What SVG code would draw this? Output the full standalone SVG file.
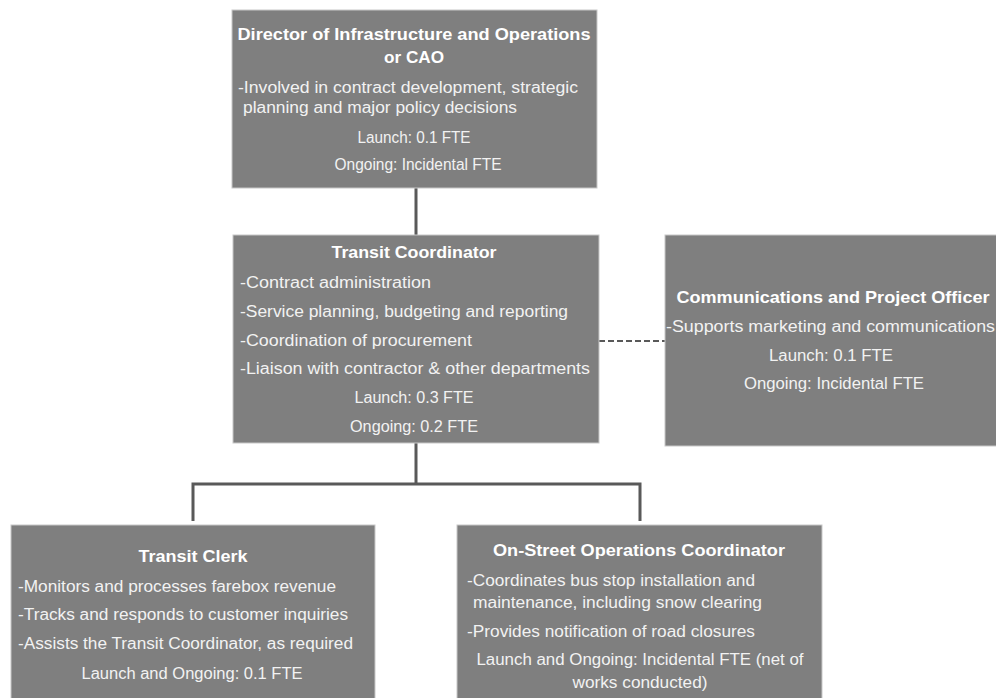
<svg xmlns="http://www.w3.org/2000/svg" width="996" height="698" viewBox="0 0 996 698">
<style>
.box{fill:#7f7f7f;stroke:#c8c8c8;stroke-width:1}
.t{font-family:"Liberation Sans",Arial,sans-serif;font-weight:bold;font-size:17px;fill:#ffffff}
.b{font-family:"Liberation Sans",Arial,sans-serif;font-size:16px;fill:#f2f2f2}
.c{text-anchor:middle}
.ln{stroke:#595959;stroke-width:3;fill:none}
.dl{stroke:#595959;stroke-width:2;fill:none;stroke-dasharray:6 3}
</style>
<g id="connectors">
<line class="ln" x1="416" y1="188" x2="416" y2="235"/>
<polyline class="ln" points="193,521 193,484 640,484 640,521"/>
<line class="ln" x1="416" y1="443" x2="416" y2="484"/>
<line class="dl" x1="599" y1="341" x2="665" y2="341"/>
</g>
<g id="director">
<rect class="box" x="232" y="10" width="365" height="178"/>
<text class="t c" x="414" y="40" textLength="353" lengthAdjust="spacingAndGlyphs">Director of Infrastructure and Operations</text>
<text class="t c" x="414" y="63" textLength="60" lengthAdjust="spacingAndGlyphs">or CAO</text>
<text class="b" x="238" y="93" textLength="340" lengthAdjust="spacingAndGlyphs">-Involved in contract development, strategic</text>
<text class="b" x="243" y="113" textLength="274" lengthAdjust="spacingAndGlyphs">planning and major policy decisions</text>
<text class="b c" x="414" y="143" textLength="113" lengthAdjust="spacingAndGlyphs">Launch: 0.1 FTE</text>
<text class="b c" x="418" y="170" textLength="167" lengthAdjust="spacingAndGlyphs">Ongoing: Incidental FTE</text>
</g>
<g id="transit-coordinator">
<rect class="box" x="233" y="235" width="366" height="208"/>
<text class="t c" x="414" y="258" textLength="165" lengthAdjust="spacingAndGlyphs">Transit Coordinator</text>
<text class="b" x="240" y="288" textLength="191" lengthAdjust="spacingAndGlyphs">-Contract administration</text>
<text class="b" x="240" y="317" textLength="328" lengthAdjust="spacingAndGlyphs">-Service planning, budgeting and reporting</text>
<text class="b" x="240" y="346" textLength="232" lengthAdjust="spacingAndGlyphs">-Coordination of procurement</text>
<text class="b" x="240" y="374" textLength="350" lengthAdjust="spacingAndGlyphs">-Liaison with contractor &amp; other departments</text>
<text class="b c" x="414" y="403" textLength="119" lengthAdjust="spacingAndGlyphs">Launch: 0.3 FTE</text>
<text class="b c" x="414" y="432" textLength="128" lengthAdjust="spacingAndGlyphs">Ongoing: 0.2 FTE</text>
</g>
<g id="communications-officer">
<rect class="box" x="665" y="235" width="340" height="211"/>
<text class="t c" x="833" y="303" textLength="313" lengthAdjust="spacingAndGlyphs">Communications and Project Officer</text>
<text class="b" x="666" y="332" textLength="329" lengthAdjust="spacingAndGlyphs">-Supports marketing and communications</text>
<text class="b c" x="831" y="361" textLength="124" lengthAdjust="spacingAndGlyphs">Launch: 0.1 FTE</text>
<text class="b c" x="834" y="389" textLength="180" lengthAdjust="spacingAndGlyphs">Ongoing: Incidental FTE</text>
</g>
<g id="transit-clerk">
<rect class="box" x="11" y="525" width="364" height="180"/>
<text class="t c" x="193" y="562" textLength="109" lengthAdjust="spacingAndGlyphs">Transit Clerk</text>
<text class="b" x="18" y="592" textLength="318" lengthAdjust="spacingAndGlyphs">-Monitors and processes farebox revenue</text>
<text class="b" x="18" y="620" textLength="330" lengthAdjust="spacingAndGlyphs">-Tracks and responds to customer inquiries</text>
<text class="b" x="18" y="649" textLength="335" lengthAdjust="spacingAndGlyphs">-Assists the Transit Coordinator, as required</text>
<text class="b c" x="192" y="679" textLength="221" lengthAdjust="spacingAndGlyphs">Launch and Ongoing: 0.1 FTE</text>
</g>
<g id="on-street-coordinator">
<rect class="box" x="457" y="525" width="365" height="180"/>
<text class="t c" x="639" y="556" textLength="292" lengthAdjust="spacingAndGlyphs">On-Street Operations Coordinator</text>
<text class="b" x="467" y="586" textLength="288" lengthAdjust="spacingAndGlyphs">-Coordinates bus stop installation and</text>
<text class="b" x="473" y="608" textLength="289" lengthAdjust="spacingAndGlyphs">maintenance, including snow clearing</text>
<text class="b" x="467" y="637" textLength="288" lengthAdjust="spacingAndGlyphs">-Provides notification of road closures</text>
<text class="b c" x="640" y="665" textLength="327" lengthAdjust="spacingAndGlyphs">Launch and Ongoing: Incidental FTE (net of</text>
<text class="b c" x="640" y="688" textLength="135" lengthAdjust="spacingAndGlyphs">works conducted)</text>
</g>
</svg>
